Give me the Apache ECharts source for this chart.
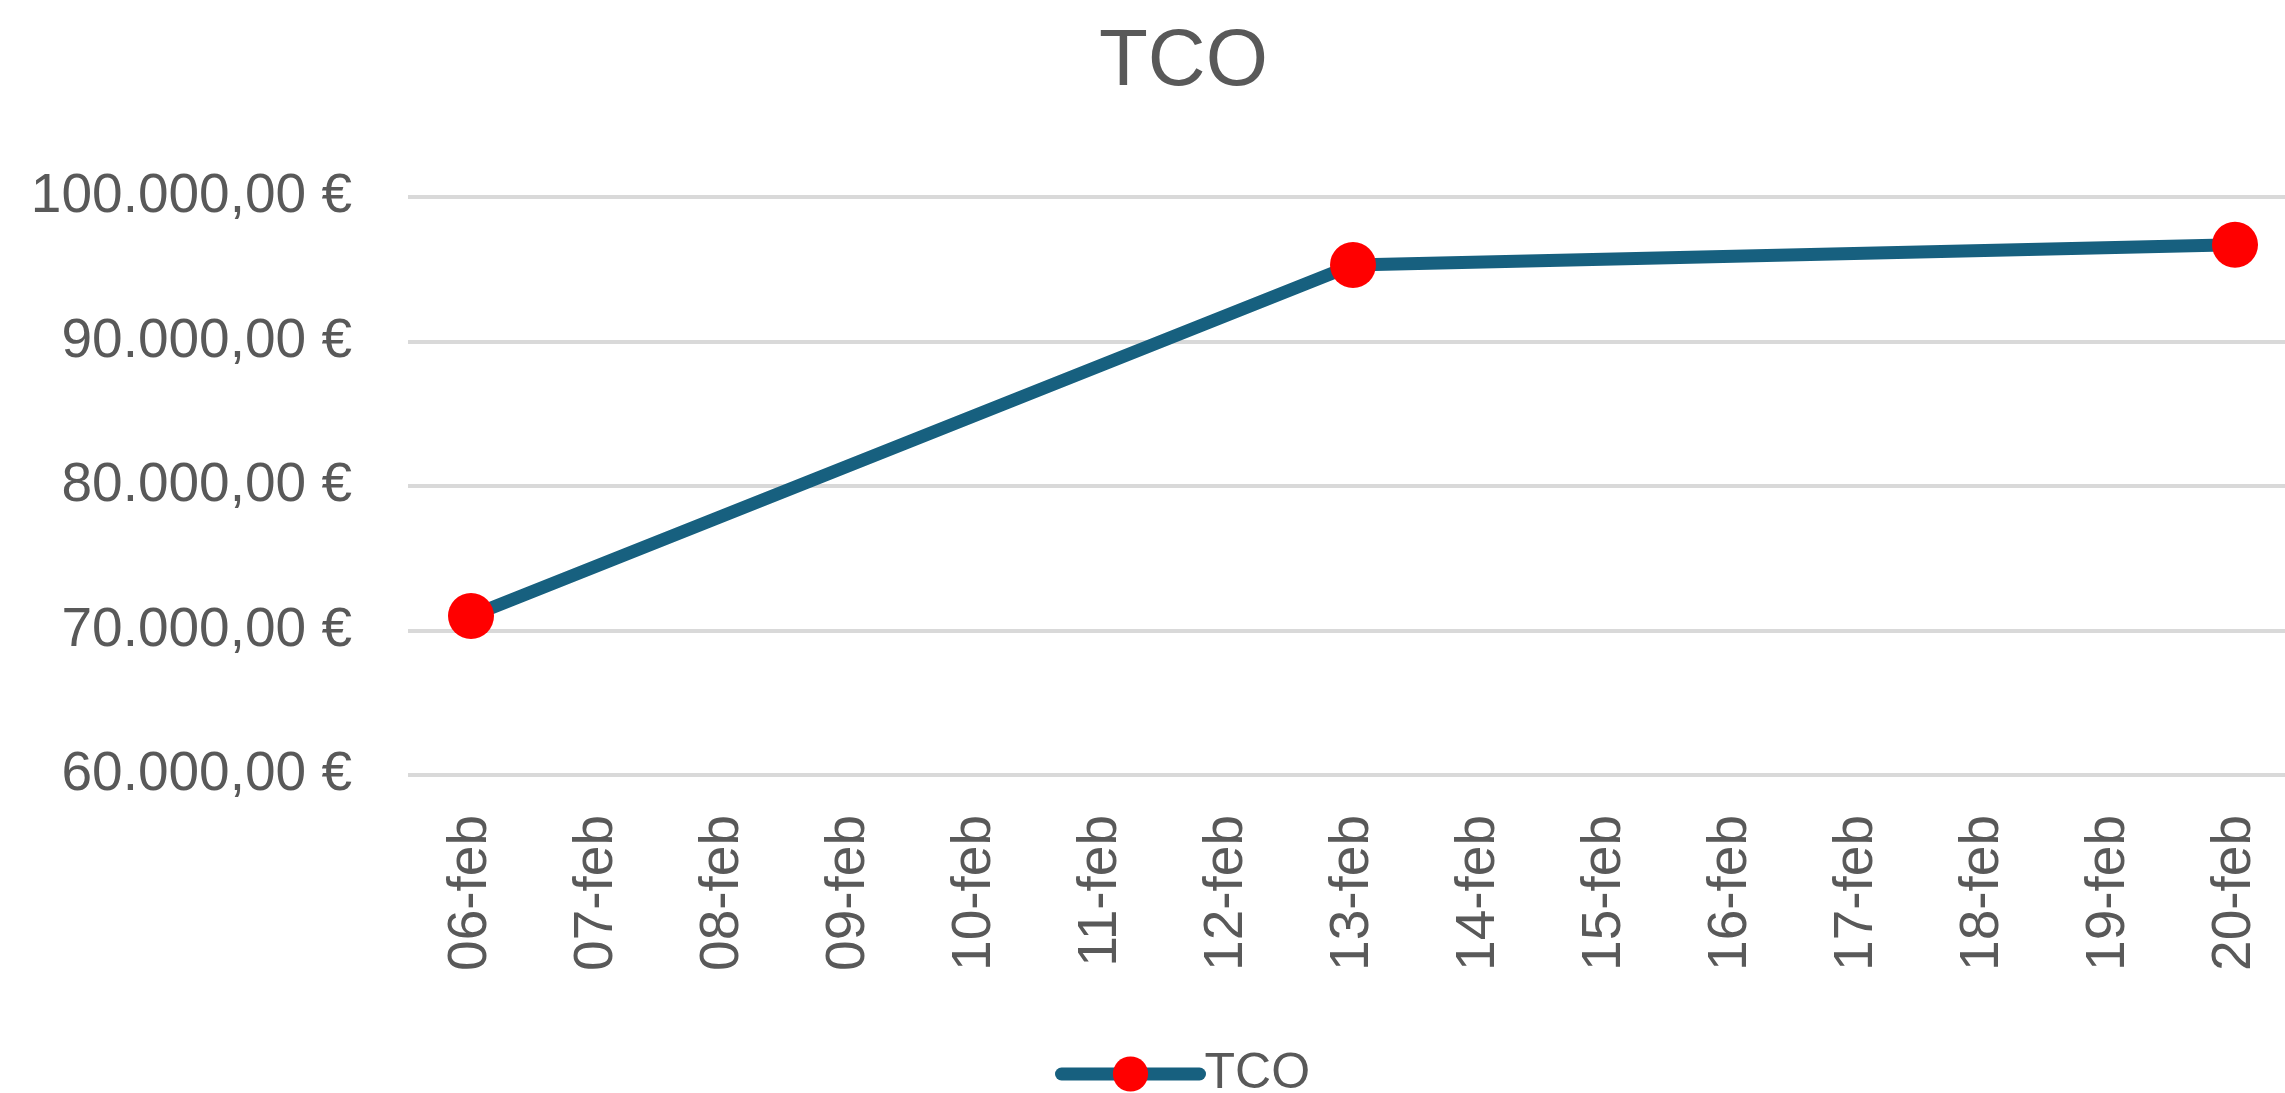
<!DOCTYPE html>
<html>
<head>
    <meta charset="utf-8">
    <title>TCO</title>
    <script src="https://cdn.jsdelivr.net/npm/echarts@6/dist/echarts.min.js"></script>
    <style>
        html, body { margin: 0; padding: 0; background: #ffffff; }
    </style>
</head>
<body>
    <div id="chart" style="width: 2285px; height: 1093px;"></div>
    <script>
        // Chart data
        var dates = ["06-feb", "07-feb", "08-feb", "09-feb", "10-feb", "11-feb", "12-feb",
                     "13-feb", "14-feb", "15-feb", "16-feb", "17-feb", "18-feb", "19-feb", "20-feb"];
        var tcoValues = [71000, null, null, null, null, null, null,
                         95300, null, null, null, null, null, null, 96700];
        var yTicks = { min: 60000, max: 100000, step: 10000 };

        // 100000 -> "100.000,00 €"
        function euro(v) {
            var s = Math.round(v).toString().replace(/\B(?=(\d{3})+(?!\d))/g, ".");
            return s + ",00 €";
        }

        var chart = echarts.init(document.querySelector("#chart"));
        var font = "'Liberation Sans', Arial, sans-serif";

        var option = {
          animation: false,
          title: {
            text: "TCO",
            left: 1094,
            top: 18,
            textStyle: { fontFamily: font, fontSize: 80, fontWeight: 'normal', color: '#595959' }
          },
          legend: {
            data: ["TCO"],
            left: 1050,
            top: 1044,
            itemWidth: 138,
            itemHeight: 44,
            lineStyle: { width: 13, cap: 'round', color: '#17607f' },
            textStyle: { fontFamily: font, fontSize: 50, color: '#595959', padding: [0, 0, 0, 0] }
          },
          grid: {
            left: 408,
            top: 197,
            width: 1890,
            height: 578,
            outerBoundsMode: 'none'
          },
          xAxis: {
            type: 'category',
            data: dates,
            axisLine: { show: false },
            axisTick: { show: false },
            axisLabel: {
              rotate: 90,
              margin: 40,
              interval: 0,
              fontFamily: font,
              fontSize: 55,
              color: '#595959'
            }
          },
          yAxis: {
            type: 'value',
            min: yTicks.min,
            max: yTicks.max,
            interval: yTicks.step,
            axisLine: { show: false },
            axisTick: { show: false },
            axisLabel: {
              margin: 56,
              fontFamily: font,
              fontSize: 55,
              color: '#595959',
              formatter: euro
            },
            splitLine: { lineStyle: { color: '#d9d9d9', width: 4 } }
          },
          series: [
            {
              name: "TCO",
              type: 'line',
              data: tcoValues,
              connectNulls: true,
              symbol: 'circle',
              symbolSize: 46,
              itemStyle: { color: '#ff0000' },
              lineStyle: { color: '#17607f', width: 13, cap: 'round' }
            }
          ]
        };
        chart.setOption(option);
    </script>
</body>
</html>
